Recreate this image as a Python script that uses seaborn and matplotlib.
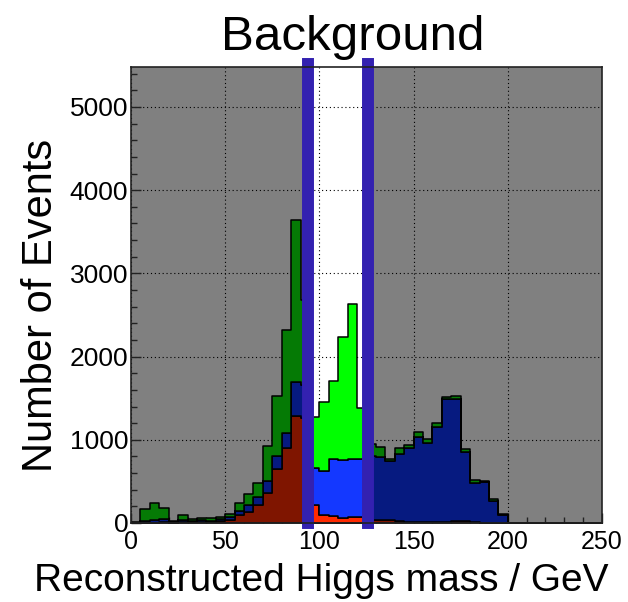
import numpy as np
import pandas as pd
import matplotlib
matplotlib.use("Agg")
import matplotlib.pyplot as plt
from matplotlib.ticker import MultipleLocator
import seaborn as sns

# 5 GeV bins from 0 to 250 GeV
edges = list(range(0, 255, 5))
mass = [e + 2.5 for e in edges[:-1]]

# per-sample event counts in each bin (stacked: red at bottom, then blue, then green)
red = [0, 3, 5, 8, 5, 18, 10, 14, 12, 24,
       36, 96, 132, 212, 357, 649, 898, 1290, 1260, 212,
       100, 88, 56, 76, 68, 40, 36, 36, 30, 10,
       12, 12, 10, 10, 24, 24, 10, 5, 4, 2,
       0, 0, 0, 0, 0, 0, 0, 0, 0, 0]
blue = [5, 17, 30, 37, 10, 22, 15, 22, 18, 20,
        32, 48, 80, 96, 148, 152, 182, 408, 400, 453,
        529, 685, 701, 689, 701, 760, 753, 709, 799, 895,
        1026, 946, 1148, 1480, 1462, 833, 467, 488, 264, 94,
        4, 0, 0, 0, 0, 0, 0, 0, 0, 0]
green = [13, 150, 211, 133, 15, 52, 19, 24, 28, 28,
         36, 92, 132, 173, 425, 725, 1240, 1947, 1020, 613,
         821, 934, 1483, 1863, 609, 150, 128, 24, 69, 33,
         60, 48, 40, 28, 40, 28, 40, 12, 20, 12,
         2, 0, 0, 0, 0, 0, 0, 0, 0, 0]

samples = ["green", "blue", "red"]          # hue order: last level sits at the bottom
window_lo, window_hi = 95, 125               # mass window

dark_palette = {"red": "#7f1500", "blue": "#061a80", "green": "#057a05"}
bright_palette = {"red": "#ff2a00", "blue": "#1438ff", "green": "#00ff00"}

rows = []
for name, vals in zip(["red", "blue", "green"], [red, blue, green]):
    for m, v in zip(mass, vals):
        rows.append({"mass": m, "events": v, "sample": name})
df = pd.DataFrame(rows)
inside = (df["mass"] > window_lo) & (df["mass"] < window_hi)
df_out = df.copy()
df_out.loc[inside, "events"] = 0
df_in = df[inside].reset_index(drop=True)

plt.rcParams["font.family"] = ["Liberation Sans", "DejaVu Sans"]

fig = plt.figure(figsize=(6.28, 6.02), dpi=100)
ax = fig.add_axes([131 / 628, 1 - 523 / 602, 471 / 628, 456 / 602])
ax.set_facecolor("#808080")
ax.axvspan(94, 126, color="white", zorder=0.2, lw=0)

hist_kw = dict(x="mass", weights="events", hue="sample", hue_order=samples,
               multiple="stack", element="step", alpha=1, edgecolor="black",
               linewidth=1.1, legend=False, ax=ax)
sns.histplot(data=df_out, bins=edges, palette=dark_palette, **hist_kw)
sns.histplot(data=df_in, bins=list(range(window_lo, window_hi + 5, 5)),
             palette=bright_palette, **hist_kw)

for xc in (94, 126):
    ax.axvline(xc, color="#3321b0", lw=8.6, zorder=5, ymin=0, ymax=1.006, clip_on=False)

ax.set_xlim(0, 250)
ax.set_ylim(0, 5480)
ax.set_axisbelow(True)
ax.grid(True, which="major", color="black", linestyle=(0, (1, 2.5)), linewidth=0.8)

ax.xaxis.set_major_locator(MultipleLocator(50))
ax.xaxis.set_minor_locator(MultipleLocator(10))
ax.yaxis.set_major_locator(MultipleLocator(1000))
ax.yaxis.set_minor_locator(MultipleLocator(200))
ax.tick_params(which="both", direction="in", top=False, right=False, color="#222222")
ax.tick_params(which="major", length=7, width=1)
ax.tick_params(which="minor", length=4, width=1)
ax.tick_params(axis="x", pad=5, labelsize=18)
ax.tick_params(axis="y", pad=2, labelsize=19)

for s in ax.spines.values():
    s.set_color("#222222")
    s.set_linewidth(1.2)
    s.set_zorder(6)

ax.set_xlabel("Reconstructed Higgs mass / GeV", fontsize=28)
ax.xaxis.label.set_ha("right")
ax.xaxis.set_label_coords((609 - 131) / 471, -0.088)
ax.set_ylabel("Number of Events", fontsize=30)
ax.yaxis.set_label_coords(-0.148, 0.478)

fig.text(353 / 628, 1 - 50 / 602, "Background", fontsize=35.5, ha="center", va="baseline")

fig.savefig("out.png", dpi=100)
